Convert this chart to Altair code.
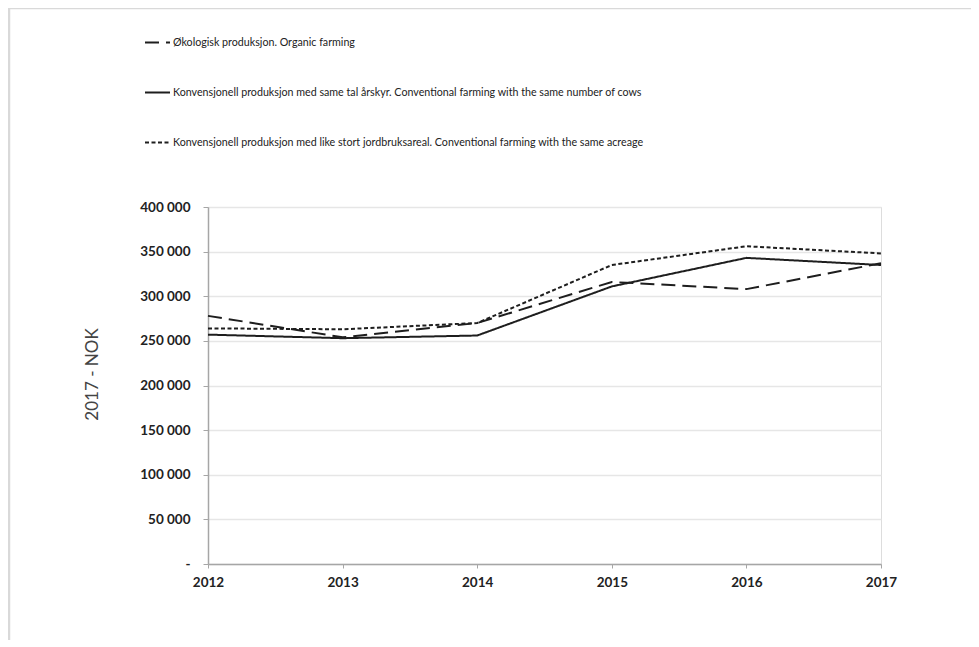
import altair as alt
import pandas as pd

years = [2012, 2013, 2014, 2015, 2016, 2017]
series_names = [
    "Økologisk produksjon. Organic farming",
    "Konvensjonell produksjon med same tal årskyr. Conventional farming with the same number of cows",
    "Konvensjonell produksjon med like stort jordbruksareal. Conventional farming with the same acreage",
]
organic = [278000, 254000, 270000, 316000, 308000, 337000]
conv_cows = [257000, 253000, 256000, 311000, 343000, 335000]
conv_acreage = [264000, 263000, 270000, 335000, 356000, 348000]

rows = []
for name, vals in zip(series_names, [organic, conv_cows, conv_acreage]):
    for y, v in zip(years, vals):
        rows.append({"year": y, "value": v, "series": name})
df = pd.DataFrame(rows)

W, H = 673, 357
PAD_L, PAD_T, PAD_R, PAD_B = 200, 199, 90, 76
FONT = "Lato, Liberation Sans, sans-serif"

lines = alt.Chart(df).mark_line(strokeWidth=2, color="#1e1e1e").encode(
    x=alt.X(
        "year:O",
        scale=alt.Scale(type="point", padding=0),
        axis=alt.Axis(
            title=None, labelAngle=0, labelFontWeight="bold", labelFontSize=13.5,
            labelColor="#222", domainColor="#a6a6a6", domainWidth=1.5,
            tickColor="#a6a6a6", tickSize=4, labelPadding=7, grid=False,
            labelFont=FONT,
        ),
    ),
    y=alt.Y(
        "value:Q",
        scale=alt.Scale(domain=[0, 400000]),
        axis=alt.Axis(
            title="2017 - NOK", values=list(range(0, 400001, 50000)),
            labelExpr="datum.value == 0 ? '-' : format(datum.value / 1000, 'd') + ' 000'",
            labelFontWeight="bold", labelFontSize=13.5, labelColor="#222", labelFont=FONT,
            domainColor="#a6a6a6", domainWidth=1.5, tickColor="#a6a6a6", tickSize=5,
            labelPadding=13, gridColor="#e6e6e6", gridWidth=1.5,
            titleFont=FONT, titleFontSize=17, titleFontWeight="normal", titleColor="#444",
            titleX=-116, titleY=167, titleAngle=-90, titleAlign="center",
            titleBaseline="middle",
        ),
    ),
    strokeDash=alt.StrokeDash(
        "series:N",
        scale=alt.Scale(domain=series_names, range=[[14, 7], [1, 0], [4, 2.5]]),
        legend=alt.Legend(
            title=None, orient="none", legendX=-64, legendY=-178, direction="vertical",
            symbolType="stroke", symbolSize=625, symbolStrokeWidth=2,
            symbolStrokeColor="#1e1e1e", rowPadding=31, labelOffset=2,
            labelFont=FONT, labelFontSize=10.7, labelColor="#222", labelLimit=800,
            padding=0,
        ),
    ),
)

frame_top = alt.Chart().mark_rule(color="#d9d9d9", strokeWidth=2.5).encode(
    x=alt.value(-199), x2=alt.value(W + PAD_R), y=alt.value(-199)
)
frame_left = alt.Chart().mark_rule(color="#d9d9d9", strokeWidth=2.5).encode(
    x=alt.value(-199), y=alt.value(-199), y2=alt.value(H + PAD_B)
)

chart = alt.layer(frame_top, frame_left, lines).properties(
    width=W, height=H,
    autosize=alt.AutoSizeParams(type="none"),
    padding={"left": PAD_L, "top": PAD_T, "right": PAD_R, "bottom": PAD_B},
).configure_view(stroke=None).configure(background="white")

chart.save("out.html", embed_options={"renderer": "svg", "actions": False})
